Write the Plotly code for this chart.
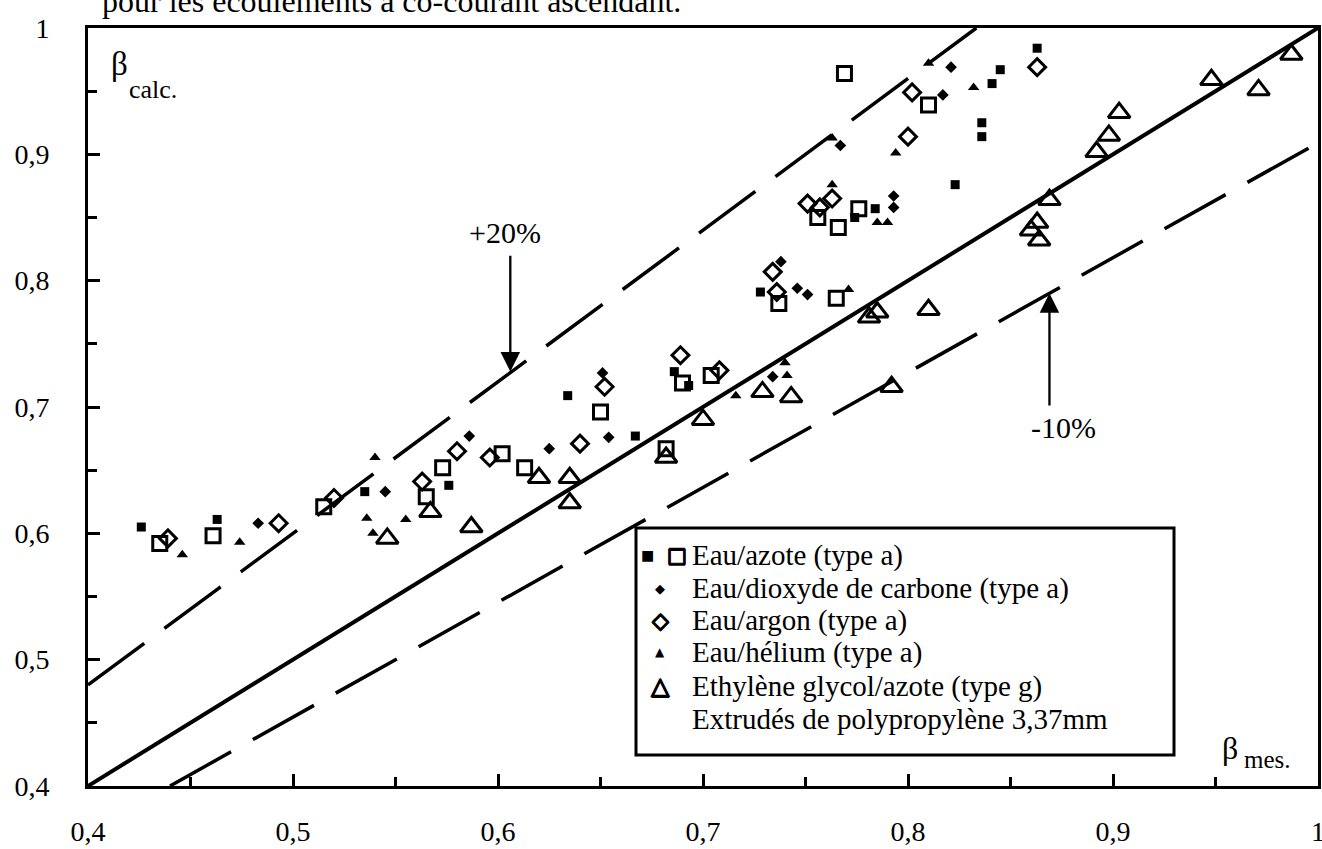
import plotly.graph_objects as go

# ---------------- data ----------------
# Eau/azote (type a) - filled squares
az_plein_x = [0.426, 0.463, 0.535, 0.576, 0.634, 0.667, 0.686, 0.693, 0.728, 0.774, 0.784, 0.823, 0.836, 0.836, 0.841, 0.845, 0.863]
az_plein_y = [0.605, 0.611, 0.633, 0.638, 0.709, 0.677, 0.728, 0.717, 0.791, 0.850, 0.857, 0.876, 0.925, 0.914, 0.956, 0.967, 0.984]
# Eau/azote (type a) - open squares
az_vide_x = [0.435, 0.461, 0.515, 0.565, 0.573, 0.602, 0.613, 0.650, 0.682, 0.690, 0.704, 0.737, 0.765, 0.756, 0.766, 0.776, 0.769, 0.810]
az_vide_y = [0.592, 0.598, 0.621, 0.629, 0.652, 0.663, 0.652, 0.696, 0.667, 0.719, 0.725, 0.782, 0.786, 0.850, 0.842, 0.857, 0.964, 0.939]
# Eau/dioxyde de carbone (type a) - small filled diamonds
co2_x = [0.483, 0.545, 0.586, 0.625, 0.651, 0.654, 0.734, 0.738, 0.746, 0.751, 0.767, 0.793, 0.793, 0.817, 0.821]
co2_y = [0.608, 0.633, 0.677, 0.667, 0.727, 0.676, 0.724, 0.815, 0.794, 0.789, 0.907, 0.867, 0.858, 0.947, 0.969]
# Eau/argon (type a) - open diamonds
ar_x = [0.439, 0.493, 0.520, 0.563, 0.580, 0.596, 0.640, 0.652, 0.689, 0.708, 0.736, 0.734, 0.751, 0.757, 0.763, 0.800, 0.802, 0.863]
ar_y = [0.596, 0.608, 0.628, 0.641, 0.665, 0.660, 0.671, 0.716, 0.741, 0.729, 0.791, 0.807, 0.861, 0.858, 0.865, 0.914, 0.949, 0.969]
# Eau/hélium (type a) - small filled triangles
he_x = [0.446, 0.474, 0.536, 0.539, 0.540, 0.555, 0.716, 0.740, 0.741, 0.771, 0.763, 0.763, 0.785, 0.790, 0.794, 0.810, 0.832]
he_y = [0.583, 0.593, 0.612, 0.600, 0.660, 0.611, 0.709, 0.735, 0.725, 0.793, 0.876, 0.913, 0.846, 0.846, 0.901, 0.972, 0.953]
# Ethylène glycol/azote (type g) - open triangles
eg_x = [0.546, 0.567, 0.587, 0.620, 0.635, 0.635, 0.682, 0.700, 0.729, 0.743, 0.781, 0.785, 0.810, 0.792, 0.860, 0.863, 0.864, 0.869, 0.892, 0.898, 0.903, 0.948, 0.971, 0.987]
eg_y = [0.596, 0.617, 0.605, 0.644, 0.644, 0.624, 0.660, 0.690, 0.712, 0.708, 0.771, 0.775, 0.777, 0.716, 0.840, 0.846, 0.832, 0.864, 0.902, 0.915, 0.933, 0.959, 0.951, 0.979]

# reference lines: y = k * x
ecart_sup = 1.2      # +20 %
ecart_inf = 1 / 1.1  # -10 %
borne = [0.4, 1.0]

tick_vals = [0.4, 0.5, 0.6, 0.7, 0.8, 0.9, 1.0]
tick_text = ["0,4", "0,5", "0,6", "0,7", "0,8", "0,9", "1"]
minor_vals = [0.45, 0.55, 0.65, 0.75, 0.85, 0.95]

legend_labels = [
    "Eau/azote (type a)",
    "Eau/dioxyde de carbone (type a)",
    "Eau/argon (type a)",
    "Eau/hélium (type a)",
    "Ethylène glycol/azote (type g)",
    "Extrudés de polypropylène 3,37mm",
]
titre = "pour les écoulements à co-courant ascendant."

# ---------------- figure ----------------
SERIF = "Liberation Serif"
SYMF = "DejaVu Sans"
fig = go.Figure()

# lines
fig.add_trace(go.Scatter(x=borne, y=borne, mode="lines",
                         line=dict(color="black", width=4), showlegend=False, hoverinfo="skip"))
x_sup = [borne[0], borne[1] / ecart_sup]
fig.add_trace(go.Scatter(x=x_sup, y=[v * ecart_sup for v in x_sup], mode="lines",
                         line=dict(color="black", width=3.5, dash="70px,25px"),
                         showlegend=False, hoverinfo="skip"))
x_inf = [borne[0] / ecart_inf, borne[1]]
fig.add_trace(go.Scatter(x=x_inf, y=[v * ecart_inf for v in x_inf], mode="lines",
                         line=dict(color="black", width=3.5, dash="70px,25px"),
                         showlegend=False, hoverinfo="skip"))


def pts(x, y, symbol, size, lw, name):
    fig.add_trace(go.Scatter(
        x=x, y=y, mode="markers", name=name, showlegend=False, cliponaxis=False,
        marker=dict(symbol=symbol, size=size, color="black",
                    line=dict(color="black", width=lw))))


pts(eg_x, eg_y, "triangle-up-open", 19, 3, legend_labels[4])
pts(az_vide_x, az_vide_y, "square-open", 14, 3, legend_labels[0])
pts(ar_x, ar_y, "diamond-open", 13, 3, legend_labels[2])
pts(az_plein_x, az_plein_y, "square", 9, 0, legend_labels[0])
pts(co2_x, co2_y, "diamond", 9, 0, legend_labels[1])
pts(he_x, he_y, "triangle-up", 10, 0, legend_labels[3])

# ---------------- annotations ----------------
ann = []
# title fragment (cut at top of the page)
ann.append(dict(text=titre, xref="paper", yref="paper", x=0.0098, y=1.036,
                xanchor="left", yanchor="middle", showarrow=False,
                font=dict(family=SERIF, size=32, color="black")))
# +20 %
ann.append(dict(text="+20%", x=0.6034, y=0.8385, xref="x", yref="y", showarrow=False,
                font=dict(family=SERIF, size=30, color="black")))
ann.append(dict(text="", x=0.606, y=0.728, ax=0.606, ay=0.821, xref="x", yref="y",
                axref="x", ayref="y", showarrow=True, arrowhead=2, arrowsize=1.7,
                arrowwidth=2.3, arrowcolor="black"))
# -10 %
ann.append(dict(text="-10%", x=0.876, y=0.684, xref="x", yref="y", showarrow=False,
                font=dict(family=SERIF, size=30, color="black")))
ann.append(dict(text="", x=0.869, y=0.790, ax=0.869, ay=0.700, xref="x", yref="y",
                axref="x", ayref="y", showarrow=True, arrowhead=2, arrowsize=1.7,
                arrowwidth=2.3, arrowcolor="black"))
# axis titles
ann.append(dict(text="β", x=0.4156, y=0.9715, xref="x", yref="y", showarrow=False,
                font=dict(family=SERIF, size=33, color="black")))
ann.append(dict(text="calc.", x=0.4317, y=0.9517, xref="x", yref="y", showarrow=False,
                font=dict(family=SERIF, size=26, color="black")))
ann.append(dict(text="β", x=0.957, y=0.430, xref="x", yref="y", showarrow=False,
                font=dict(family=SERIF, size=32, color="black")))
ann.append(dict(text="mes.", x=0.9756, y=0.421, xref="x", yref="y", showarrow=False,
                font=dict(family=SERIF, size=25, color="black")))

# legend (drawn by hand, as in the original)
W, H, L, B = 1230.0, 758.0, 88.0, 786.0


def px(xp):
    return (xp - L) / W


def py(yp):
    return (B - yp) / H


rows = [555, 588, 620, 652, 686, 719]
for lab, r in zip(legend_labels, rows):
    ann.append(dict(text=lab, xref="paper", yref="paper", x=px(690), y=py(r),
                    xanchor="left", yanchor="middle", showarrow=False,
                    font=dict(family=SERIF, size=29, color="black")))
thick = "0.8px 0 0 black, -0.8px 0 0 black, 0 0.8px 0 black, 0 -0.8px 0 black"
sym = [("■", 647, rows[0], 14, "none"), ("□", 677, rows[0], 21, thick),
       ("◆", 660, rows[1], 13, "none"), ("◇", 660, rows[2], 22, thick),
       ("▲", 660, rows[3], 12, "none"), ("△", 660, rows[4], 24, thick)]
for s, xx, yy, sz, sh in sym:
    ann.append(dict(text="<b>" + s + "</b>", xref="paper", yref="paper", x=px(xx), y=py(yy),
                    xanchor="center", yanchor="middle", showarrow=False,
                    font=dict(family=SYMF, size=sz, color="black", shadow=sh)))

shapes = [dict(type="rect", xref="paper", yref="paper", x0=px(636), x1=px(1174),
               y0=py(755), y1=py(528), line=dict(color="black", width=3),
               fillcolor="rgba(0,0,0,0)")]

axis_common = dict(
    range=[0.4, 1.0], showline=True, linecolor="black", linewidth=3, mirror=True,
    showgrid=False, zeroline=False, automargin=False, ticks="inside", ticklen=12,
    tickwidth=3, tickcolor="black", tickmode="array", tickvals=tick_vals,
    ticktext=tick_text, ticklabeloverflow="allow",
    tickfont=dict(family=SERIF, size=28, color="black"),
    minor=dict(ticks="inside", ticklen=9, tickwidth=3, tickcolor="black",
               tickmode="array", tickvals=minor_vals, showgrid=False),
)

fig.update_layout(
    template="none",
    width=1322, height=849,
    margin=dict(l=88, r=4, t=28, b=63, pad=0, autoexpand=False),
    plot_bgcolor="white", paper_bgcolor="white",
    xaxis=dict(**axis_common, ticklabelstandoff=18),
    yaxis=dict(**axis_common, ticklabelstandoff=30),
    annotations=ann, shapes=shapes, showlegend=False,
)

fig.write_html(
    "out.html",
    config={"displayModeBar": False},
    post_script="document.body.style.margin='0';document.body.style.overflow='hidden';",
)
